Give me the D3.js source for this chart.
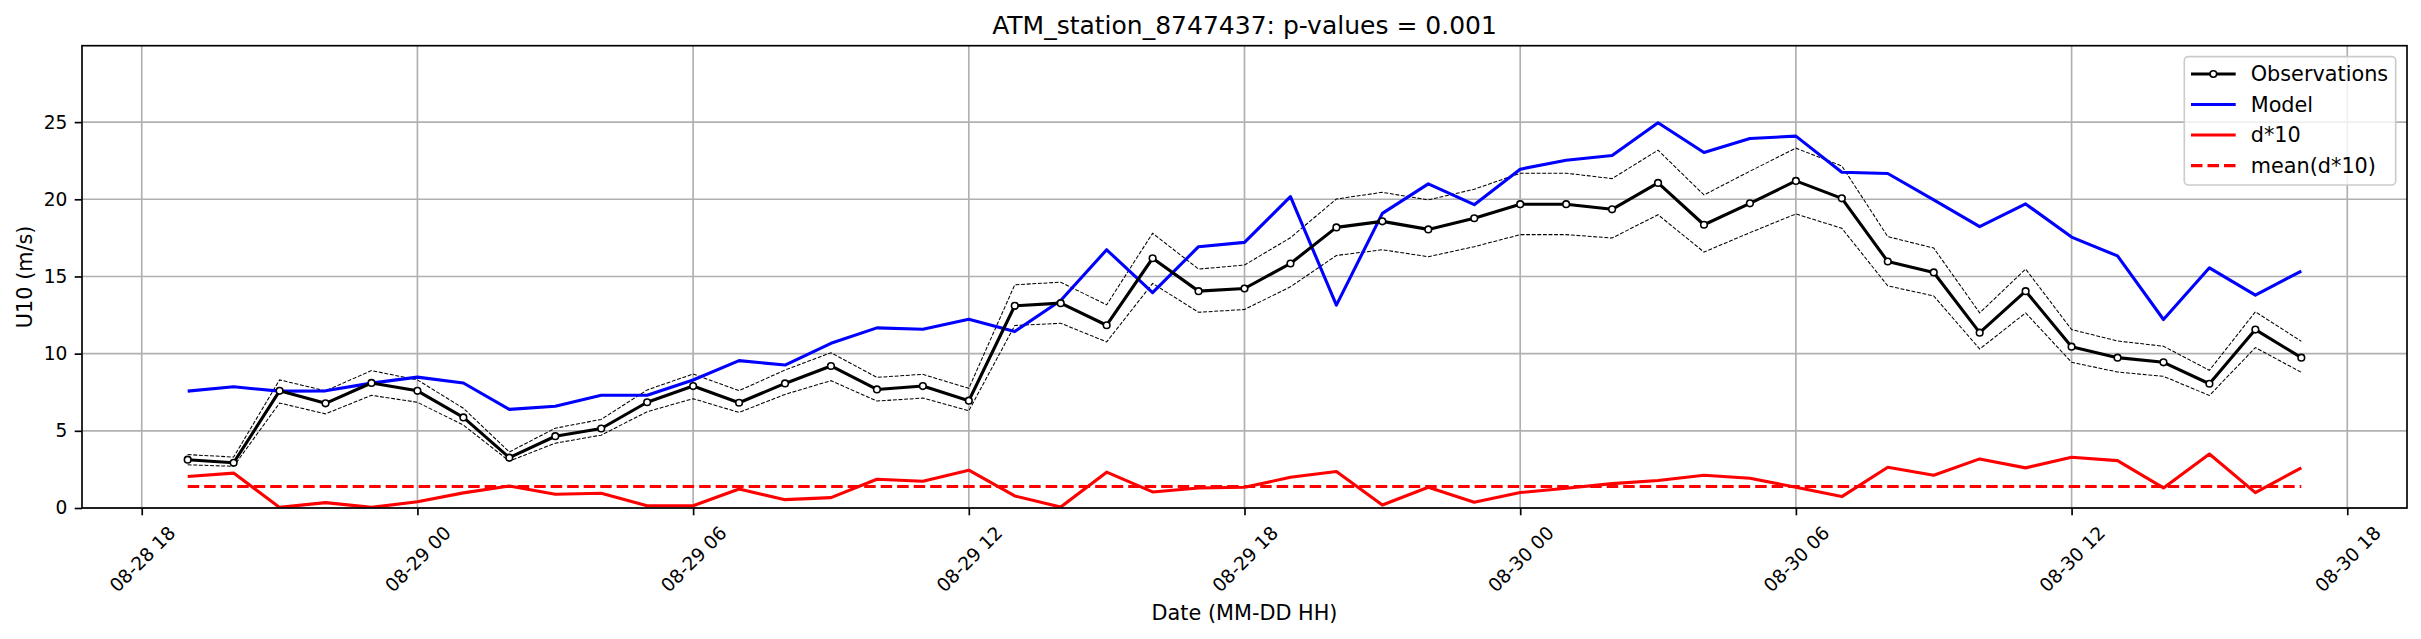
<!DOCTYPE html>
<html>
<head>
<meta charset="utf-8">
<script src="https://cdn.jsdelivr.net/npm/d3@7"></script>
<style>
  html, body { margin: 0; padding: 0; background: #fff; }
  svg { display: block; font-family: "DejaVu Sans", sans-serif; }
</style>
</head>
<body>
<svg id="chart" width="2421" height="639"></svg>
<script>
// ---------- data ----------
const title = "ATM_station_8747437: p-values = 0.001";
const startTime = "2021-08-28T19:00:00Z";   // first hourly sample
const hoursCount = 47;                         // hourly samples 08-28 19 .. 08-30 17

const observations = [3.13, 2.93, 7.59, 6.78, 8.10, 7.59, 5.87, 3.26, 4.65, 5.15, 6.85, 7.90, 6.82, 8.07, 9.20, 7.68, 7.90, 6.95, 13.10, 13.27, 11.84, 16.18, 14.05, 14.22, 15.84, 18.18, 18.57, 18.05, 18.77, 19.68, 19.68, 19.35, 21.06, 18.35, 19.74, 21.19, 20.06, 15.97, 15.26, 11.36, 14.05, 10.45, 9.74, 9.44, 8.05, 11.56, 9.74];
const obsUpper = [3.46, 3.30, 8.30, 7.59, 8.90, 8.30, 6.46, 3.63, 5.17, 5.74, 7.65, 8.68, 7.60, 8.94, 10.06, 8.46, 8.66, 7.75, 14.46, 14.63, 13.16, 17.80, 15.48, 15.74, 17.51, 20.02, 20.45, 19.96, 20.65, 21.69, 21.69, 21.34, 23.18, 20.28, 21.82, 23.31, 22.16, 17.58, 16.84, 12.64, 15.48, 11.56, 10.82, 10.48, 8.92, 12.71, 10.80];
const obsLower = [2.80, 2.70, 6.80, 6.10, 7.30, 6.85, 5.37, 3.04, 4.20, 4.72, 6.24, 7.08, 6.19, 7.36, 8.25, 6.93, 7.12, 6.30, 11.82, 11.97, 10.76, 14.55, 12.68, 12.86, 14.33, 16.36, 16.73, 16.28, 16.93, 17.71, 17.71, 17.49, 19.00, 16.58, 17.84, 19.05, 18.12, 14.39, 13.74, 10.30, 12.64, 9.44, 8.81, 8.53, 7.29, 10.39, 8.79];
const model = [7.57, 7.85, 7.57, 7.59, 8.09, 8.48, 8.10, 6.39, 6.59, 7.30, 7.30, 8.29, 9.55, 9.26, 10.67, 11.67, 11.58, 12.23, 11.43, 13.44, 16.73, 13.95, 16.93, 17.21, 20.17, 13.14, 19.09, 21.00, 19.65, 21.95, 22.53, 22.84, 24.96, 23.03, 23.94, 24.09, 21.75, 21.67, 19.96, 18.23, 19.70, 17.55, 16.33, 12.21, 15.56, 13.79, 15.35];
const d10 = [2.04, 2.26, 0.04, 0.35, 0.04, 0.40, 0.98, 1.43, 0.89, 0.96, 0.15, 0.15, 1.23, 0.54, 0.67, 1.86, 1.73, 2.45, 0.78, 0.06, 2.32, 1.04, 1.30, 1.34, 1.99, 2.36, 0.19, 1.34, 0.37, 1.00, 1.28, 1.58, 1.78, 2.12, 1.93, 1.34, 0.74, 2.64, 2.12, 3.18, 2.60, 3.29, 3.07, 1.30, 3.50, 1.00, 2.60];
const meanD10 = 1.39;
const yTicks = [0, 5, 10, 15, 20, 25];
const yMax = 29.95;
const legendLabels = ["Observations", "Model", "d*10", "mean(d*10)"];
const xLabel = "Date (MM-DD HH)";
const yLabel = "U10 (m/s)";

// ---------- layout ----------
const W = 2421, H = 639;
const plot = { left: 82, right: 2407, top: 45.7, bottom: 508 };
const HOUR = 3600 * 1000;
const t0 = new Date(startTime);
const times = d3.range(hoursCount).map(i => new Date(t0.getTime() + i * HOUR));
const span = times[times.length - 1] - times[0];

const x = d3.scaleUtc()
  .domain([new Date(times[0].getTime() - 0.05 * span), new Date(times[times.length - 1].getTime() + 0.05 * span)])
  .range([plot.left, plot.right]);
const y = d3.scaleLinear().domain([0, yMax]).range([plot.bottom, plot.top]);

const svg = d3.select("#chart");
const xTickVals = x.ticks(d3.utcHour.every(6));
const fmt = d3.utcFormat("%m-%d %H");

// grid
const grid = svg.append("g");
grid.selectAll("line.vg").data(xTickVals).join("line")
  .attr("x1", d => x(d)).attr("x2", d => x(d))
  .attr("y1", plot.top).attr("y2", plot.bottom)
  .attr("stroke", "#b0b0b0").attr("stroke-width", 1.67);
grid.selectAll("line.hg").data(yTicks).join("line")
  .attr("x1", plot.left).attr("x2", plot.right)
  .attr("y1", d => y(d)).attr("y2", d => y(d))
  .attr("stroke", "#b0b0b0").attr("stroke-width", 1.67);

const clip = svg.append("clipPath").attr("id", "clip").append("rect")
  .attr("x", plot.left).attr("y", plot.top)
  .attr("width", plot.right - plot.left).attr("height", plot.bottom - plot.top);
const g = svg.append("g").attr("clip-path", "url(#clip)");

const line = arr => d3.line().x((d, i) => x(times[i])).y(d => y(d))(arr);

// obs bounds (thin dashed)
[obsUpper, obsLower].forEach(arr => {
  g.append("path").attr("d", line(arr)).attr("fill", "none")
    .attr("stroke", "#000").attr("stroke-width", 1.05)
    .attr("stroke-dasharray", "3.9,1.7");
});
// model
g.append("path").attr("d", line(model)).attr("fill", "none")
  .attr("stroke", "#0000ff").attr("stroke-width", 3.1).attr("stroke-linejoin", "round");
// observations
g.append("path").attr("d", line(observations)).attr("fill", "none")
  .attr("stroke", "#000").attr("stroke-width", 3.1).attr("stroke-linejoin", "round");
g.selectAll("circle.obs").data(observations).join("circle")
  .attr("cx", (d, i) => x(times[i])).attr("cy", d => y(d)).attr("r", 3.3)
  .attr("fill", "#fff").attr("stroke", "#000").attr("stroke-width", 1.6);
// d*10
g.append("path").attr("d", line(d10)).attr("fill", "none")
  .attr("stroke", "#ff0000").attr("stroke-width", 3.1).attr("stroke-linejoin", "round");
// mean
g.append("path").attr("d", line(times.map(() => meanD10))).attr("fill", "none")
  .attr("stroke", "#ff0000").attr("stroke-width", 3.1)
  .attr("stroke-dasharray", "11.5,5");

// axes
const xAxis = svg.append("g").attr("transform", `translate(0,${plot.bottom})`)
  .call(d3.axisBottom(x).tickValues(xTickVals).tickFormat(fmt).tickSize(7.3).tickPadding(3));
xAxis.select(".domain").remove();
xAxis.selectAll(".tick line").attr("stroke", "#000").attr("stroke-width", 1.67);
xAxis.selectAll(".tick text")
  .attr("y", null).attr("dy", "0.36em")
  .attr("text-anchor", "middle")
  .attr("transform", "translate(0,51) rotate(-45)")
  .attr("font-size", 18.6).attr("fill", "#000")
  .attr("font-family", "DejaVu Sans");

const yAxis = svg.append("g").attr("transform", `translate(${plot.left},0)`)
  .call(d3.axisLeft(y).tickValues(yTicks).tickFormat(d3.format("d")).tickSize(7.3).tickPadding(7.3));
yAxis.select(".domain").remove();
yAxis.selectAll(".tick line").attr("stroke", "#000").attr("stroke-width", 1.67);
yAxis.selectAll(".tick text").attr("font-size", 18.6).attr("fill", "#000")
  .attr("font-family", "DejaVu Sans");

// frame
svg.append("rect").attr("x", plot.left).attr("y", plot.top)
  .attr("width", plot.right - plot.left).attr("height", plot.bottom - plot.top)
  .attr("fill", "none").attr("stroke", "#000").attr("stroke-width", 1.67);

// labels
svg.append("text").attr("x", (plot.left + plot.right) / 2).attr("y", 34)
  .attr("text-anchor", "middle").attr("font-size", 25).attr("fill", "#000").text(title);
svg.append("text").attr("x", (plot.left + plot.right) / 2).attr("y", 620)
  .attr("text-anchor", "middle").attr("font-size", 20.8).attr("fill", "#000").text(xLabel);
svg.append("text").attr("transform", `translate(32,${(plot.top + plot.bottom) / 2}) rotate(-90)`)
  .attr("text-anchor", "middle").attr("font-size", 20.8).attr("fill", "#000").text(yLabel);

// legend
const lg = svg.append("g");
lg.append("rect").attr("x", 2184.3).attr("y", 56.7).attr("width", 211.4).attr("height", 128.3)
  .attr("rx", 4).attr("fill", "#fff").attr("fill-opacity", 0.8)
  .attr("stroke", "#cccccc").attr("stroke-width", 1.67);
const legStyles = [
  { color: "#000", dash: null, marker: true },
  { color: "#0000ff", dash: null, marker: false },
  { color: "#ff0000", dash: null, marker: false },
  { color: "#ff0000", dash: "11.5,5", marker: false }
];
const rowY = [74, 104.5, 135, 165.6];
legendLabels.forEach((lab, i) => {
  const s = legStyles[i];
  const ln = lg.append("line").attr("x1", 2191).attr("x2", 2235.7)
    .attr("y1", rowY[i]).attr("y2", rowY[i])
    .attr("stroke", s.color).attr("stroke-width", 3.1);
  if (s.dash) ln.attr("stroke-dasharray", s.dash);
  if (s.marker) lg.append("circle").attr("cx", (2191 + 2235.7) / 2).attr("cy", rowY[i]).attr("r", 3.3)
    .attr("fill", "#fff").attr("stroke", "#000").attr("stroke-width", 1.6);
  lg.append("text").attr("x", 2250.7).attr("y", rowY[i]).attr("dy", "0.36em")
    .attr("font-size", 20.8).attr("fill", "#000").text(lab);
});
</script>
</body>
</html>
